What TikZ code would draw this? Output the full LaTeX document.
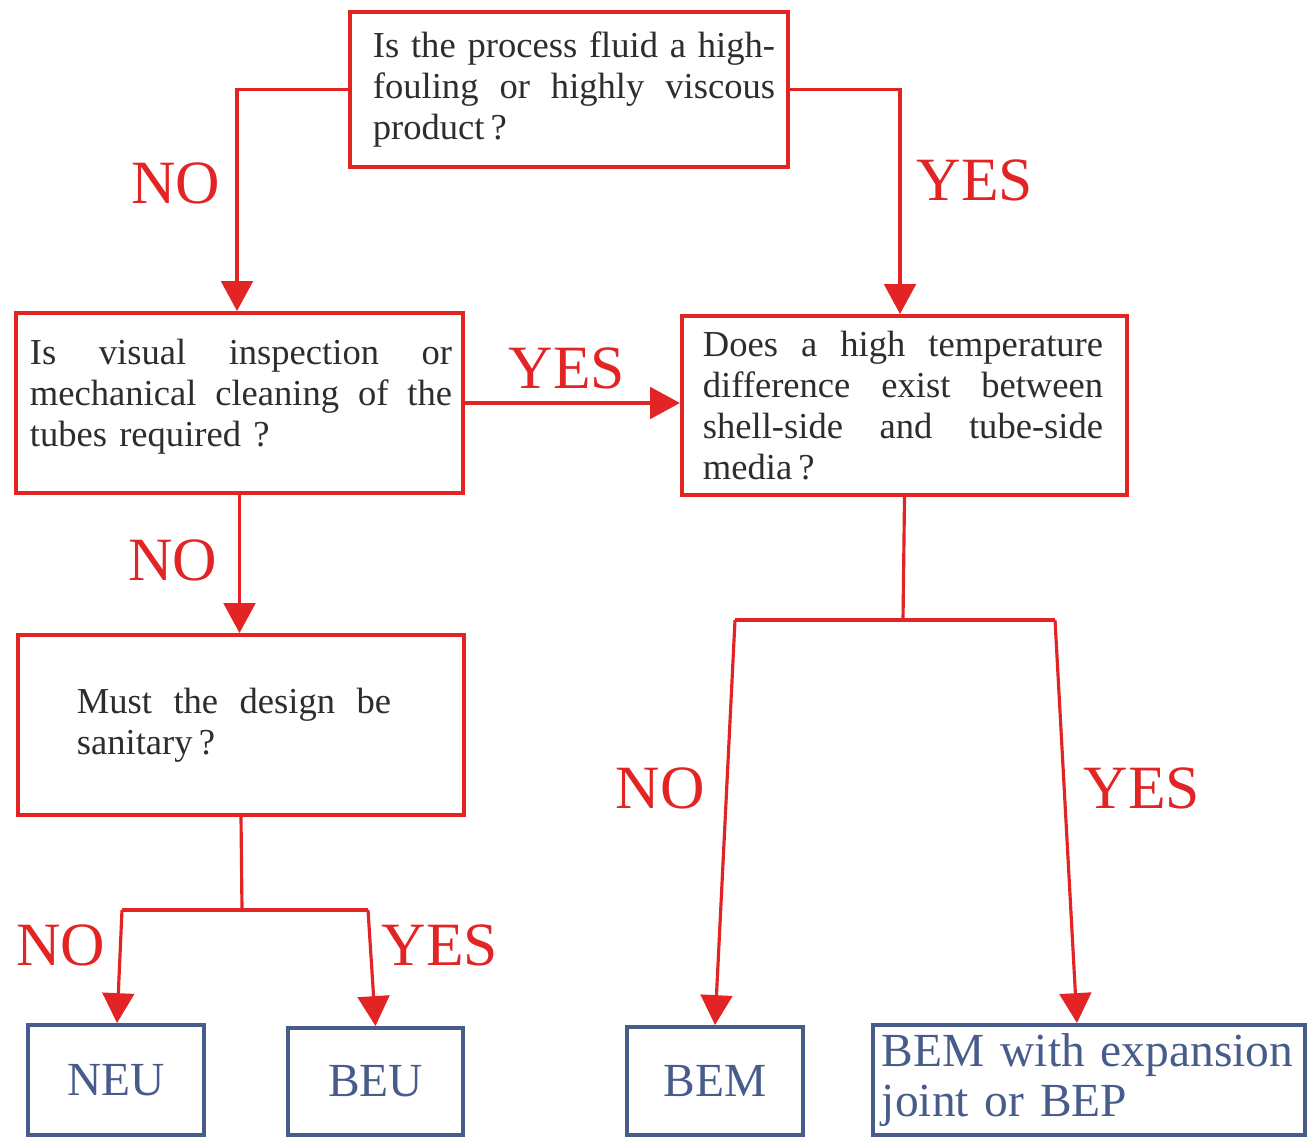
\documentclass[tikz,border=0pt]{standalone}
\usepackage{fontspec}
\setmainfont{Liberation Serif}
\usetikzlibrary{arrows.meta}
\definecolor{fred}{RGB}{226,36,36}
\definecolor{fblue}{RGB}{72,92,140}
\definecolor{ftext}{RGB}{45,45,45}
\newcommand{\jline}[2]{\leavevmode\hbox to #1{#2}}
\begin{document}
\begin{tikzpicture}[x=0.01cm,y=-0.01cm,
  qbox/.style={draw=fred, line width=1.1pt, rectangle, inner sep=0pt, text=ftext,
    font=\fontsize{10.4}{11.7}\selectfont, align=left},
  abox/.style={draw=fblue, line width=1.1pt, rectangle, inner sep=0pt, text=fblue,
    font=\fontsize{13.5}{14.2}\selectfont},
  flow/.style={draw=fred, line width=0.9pt},
  arr/.style={flow, -{Triangle[width=9pt,length=8.5pt]}},
  lab/.style={text=fred, font=\fontsize{17.5}{20}\selectfont, inner sep=0pt}
]
\useasboundingbox (0,0) rectangle (1310,1137);

% question boxes
\node[qbox, minimum width=4.38cm, minimum height=1.55cm, text width=3.92cm] (q1) at (569,89.5)
  {\jline{4.02cm}{Is\hfill the\hfill process\hfill fluid\hfill a\hfill high-}\\\jline{4.02cm}{fouling\hfill or\hfill highly\hfill viscous}\\product\,?};
\node[qbox, minimum width=4.47cm, minimum height=1.80cm, text width=4.19cm] (q2) at (239.5,403)
  {\jline{4.22cm}{Is\hfill visual\hfill inspection\hfill or}\\\jline{4.22cm}{mechanical\hfill cleaning\hfill of\hfill the}\\tubes required ?\par\vspace*{0.12cm}};
\node[qbox, minimum width=4.45cm, minimum height=1.79cm, text width=4.03cm] (q3) at (904.5,405.5)
  {\jline{4.00cm}{Does\hfill a\hfill high\hfill temperature}\\\jline{4.00cm}{difference\hfill exist\hfill between}\\\jline{4.00cm}{shell-side\hfill and\hfill tube-side}\\media\,?};
\node[qbox, minimum width=4.46cm, minimum height=1.80cm, text width=3.28cm] (q4) at (241,725)
  {\jline{3.14cm}{Must\hfill the\hfill design\hfill be}\\sanitary\,?};

% answer boxes
\node[abox, minimum width=1.76cm, minimum height=1.10cm] (neu) at (116,1080) {NEU};
\node[abox, minimum width=1.75cm, minimum height=1.07cm] (beu) at (375.5,1081.5) {BEU};
\node[abox, minimum width=1.76cm, minimum height=1.08cm] (bem) at (715,1081) {BEM};
\node[abox, minimum width=4.32cm, minimum height=1.10cm, text width=4.14cm, inner xsep=0.09cm, align=left] (bep) at (1089,1080)
  {BEM with expansion\\joint or BEP};

% junction coordinates
\coordinate (j1) at (242,910);
\coordinate (j1l) at (122,910);
\coordinate (j1r) at (368,910);
\coordinate (j2) at (903,620);
\coordinate (j2l) at (735,620);
\coordinate (j2r) at (1055,620);

% connectors
\draw[arr] (q1.west) -| ([xshift=-0.025cm]q2.north);
\draw[arr] (q1.east) -| ([xshift=-0.045cm]q3.north);
\draw[arr] (q2.east) -- (q2.east -| q3.west);
\draw[arr] (q2.south) -- (q2.south |- q4.north);
\draw[flow] (q4.south) -- (j1);
\draw[flow, line join=round] (j1l) -- (j1r);
\draw[arr] (j1l) -- ([xshift=0.01cm]neu.north);
\draw[arr] (j1r) -- (beu.north);
\draw[flow] (q3.south) -- (j2);
\draw[flow] (j2l) -- (j2r);
\draw[arr] (j2l) -- (bem.north);
\draw[arr] (j2r) -- ([xshift=-0.12cm]bep.north);

% labels
\node[lab] (l1) at (176,183) {NO};
\node[lab] (l2) at (975,180) {YES};
\node[lab] (l3) at (567,368) {YES};
\node[lab] (l4) at (173,560) {NO};
\node[lab] (l5) at (61,945) {NO};
\node[lab] (l6) at (440,945) {YES};
\node[lab] (l7) at (660,788) {NO};
\node[lab] (l8) at (1142,788) {YES};
\end{tikzpicture}
\end{document}
